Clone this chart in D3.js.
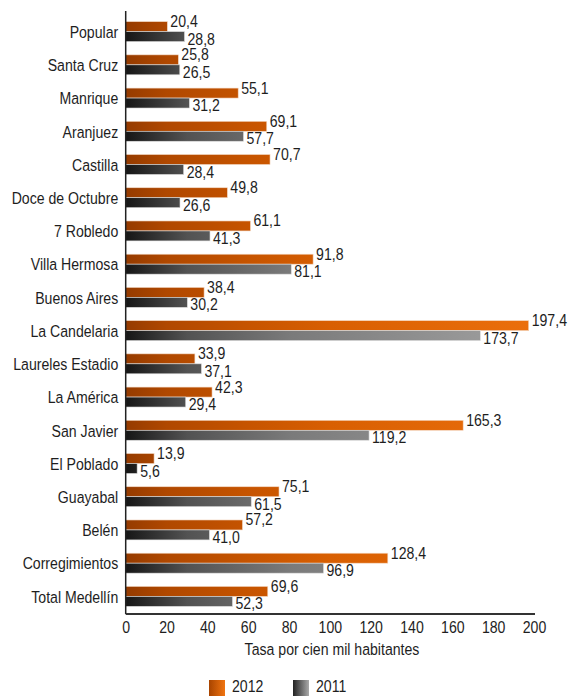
<!DOCTYPE html>
<html>
<head>
<meta charset="utf-8">
<script src="https://cdnjs.cloudflare.com/ajax/libs/d3/7.8.5/d3.min.js"></script>
<style>
body{margin:0;background:#fff;}
svg text{font-family:"Liberation Sans",Arial,sans-serif;fill:#1e1e1e;font-size:17px;}
</style>
</head>
<body>
<svg id="chart"></svg>
<script>
var comunas=["Popular","Santa Cruz","Manrique","Aranjuez","Castilla","Doce de Octubre","7 Robledo","Villa Hermosa","Buenos Aires","La Candelaria","Laureles Estadio","La América","San Javier","El Poblado","Guayabal","Belén","Corregimientos","Total Medellín"];
var tasa2012=[20.4,25.8,55.1,69.1,70.7,49.8,61.1,91.8,38.4,197.4,33.9,42.3,165.3,13.9,75.1,57.2,128.4,69.6];
var tasa2011=[28.8,26.5,31.2,57.7,28.4,26.6,41.3,81.1,30.2,173.7,37.1,29.4,119.2,5.6,61.5,41.0,96.9,52.3];
var ticks=[0,20,40,60,80,100,120,140,160,180,200];
var anios=["2012","2011"];

var w=576;
var h=696;
var margin={left:125.7,right:42,top:15,bottom:83};
var narrow="scale(0.83,1)"; // condensed look of the original font

var fmt=function(v){return d3.format(".1f")(v).replace(".",",");};

var svg=d3.select("#chart")
          .attr("width",w)
          .attr("height",h);

var xScale=d3.scaleLinear()
             .domain([0,200])
             .range([margin.left,w-margin.right]);
var yScale=d3.scaleBand()
             .domain(comunas)
             .range([margin.top,h-margin.bottom])
             .paddingInner(0.4)
             .paddingOuter(0.2);
var bh=yScale.bandwidth()/2;

// gradients
var defs=svg.append("defs");
function grad(id,stops,userSpace){
  var g=defs.append("linearGradient").attr("id",id);
  if(userSpace){
    g.attr("gradientUnits","userSpaceOnUse")
     .attr("x1",xScale(0)).attr("x2",xScale(200))
     .attr("y1",0).attr("y2",0);
  }
  g.selectAll("stop")
   .data(stops)
   .enter()
   .append("stop")
   .attr("offset",function(d){return d[0];})
   .attr("stop-color",function(d){return d[1];});
}
grad("g2012",[[0,"#953b00"],[0.1,"#b04800"],[0.3,"#c65400"],[0.5,"#d85f02"],[1,"#eb6f0c"]],true);
grad("g2011",[[0,"#161616"],[0.15,"#525252"],[0.4,"#7a7a7a"],[1,"#a2a2a2"]],true);
grad("l2012",[[0,"#a84400"],[1,"#f07410"]],false);
grad("l2011",[[0,"#222"],[1,"#aaa"]],false);

var rows=comunas.map(function(c,i){return {c:c,v12:tasa2012[i],v11:tasa2011[i]};});

// bars 2012
svg.append("g")
   .selectAll("rect")
   .data(rows)
   .enter()
   .append("rect")
   .attr("x",xScale(0))
   .attr("y",function(d){return yScale(d.c);})
   .attr("width",function(d){return xScale(d.v12)-xScale(0);})
   .attr("height",bh)
   .attr("fill","url(#g2012)")
   .attr("stroke","#f4d9c4")
   .attr("stroke-width",0.6);
// bars 2011
svg.append("g")
   .selectAll("rect")
   .data(rows)
   .enter()
   .append("rect")
   .attr("x",xScale(0))
   .attr("y",function(d){return yScale(d.c)+bh;})
   .attr("width",function(d){return xScale(d.v11)-xScale(0);})
   .attr("height",bh)
   .attr("fill","url(#g2011)")
   .attr("stroke","#dcdcdc")
   .attr("stroke-width",0.6);

// value labels
svg.append("g")
   .selectAll("text")
   .data(rows)
   .enter()
   .append("text")
   .attr("transform",function(d){return "translate("+(xScale(d.v12)+3)+","+(yScale(d.c)+5.5)+") "+narrow;})
   .text(function(d){return fmt(d.v12);});
svg.append("g")
   .selectAll("text")
   .data(rows)
   .enter()
   .append("text")
   .attr("transform",function(d){return "translate("+(xScale(d.v11)+3)+","+(yScale(d.c)+bh+13)+") "+narrow;})
   .text(function(d){return fmt(d.v11);});

// y axis
var yAxis=d3.axisLeft(yScale).tickSize(0).tickPadding(9);
var gy=svg.append("g")
   .attr("transform","translate("+margin.left+",0)")
   .call(yAxis);
gy.attr("font-size",null).attr("font-family",null);
gy.select(".domain").remove();
gy.selectAll("text")
  .attr("dy","0.37em")
  .attr("transform",narrow);
svg.append("line")
   .attr("x1",margin.left).attr("x2",margin.left)
   .attr("y1",11).attr("y2",h-margin.bottom+1)
   .attr("stroke","#222")
   .attr("stroke-width",1.5);

// x axis
var xAxis=d3.axisBottom(xScale).tickValues(ticks).tickSize(0).tickPadding(6.7);
var gx=svg.append("g")
   .attr("transform","translate(0,"+(h-margin.bottom+1)+")")
   .call(xAxis);
gx.attr("font-size",null).attr("font-family",null);
gx.select(".domain").remove();
gx.selectAll("text")
  .attr("transform",narrow);
svg.append("line")
   .attr("x1",margin.left).attr("x2",xScale(200)+1)
   .attr("y1",h-margin.bottom+1).attr("y2",h-margin.bottom+1)
   .attr("stroke","#333")
   .attr("stroke-width",2);

svg.append("text")
   .attr("transform","translate(332,655) "+narrow)
   .attr("text-anchor","middle")
   .text("Tasa por cien mil habitantes");

// legend
var legX=[209,293];
var leg=svg.append("g")
   .selectAll("g")
   .data(anios)
   .enter()
   .append("g")
   .attr("transform",function(d,i){return "translate("+legX[i]+",680)";});
leg.append("rect")
   .attr("width",16)
   .attr("height",16)
   .attr("fill",function(d){return "url(#l"+d+")";});
leg.append("text")
   .attr("transform","translate(23,12) "+narrow)
   .style("font-size","17px")
   .text(function(d){return d;});
</script>
</body>
</html>
